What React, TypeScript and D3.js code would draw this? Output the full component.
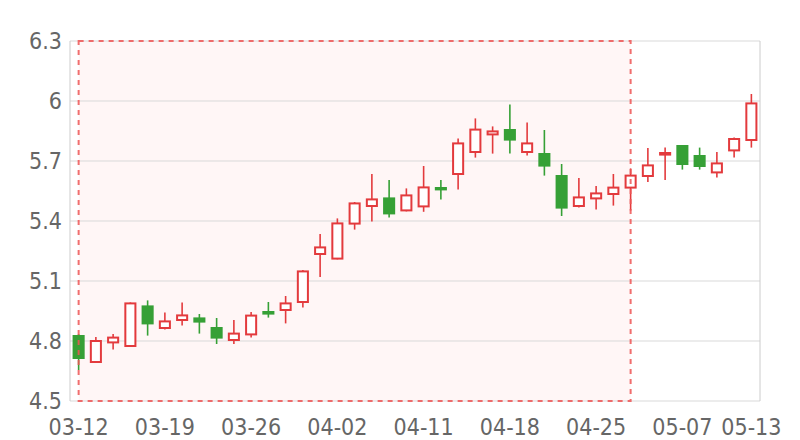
import React from "react";
import * as d3 from "d3";

const dates = [
  "03-12", "03-13", "03-14", "03-15", "03-16",
  "03-19", "03-20", "03-21", "03-22", "03-23",
  "03-26", "03-27", "03-28", "03-29", "03-30",
  "04-02", "04-03", "04-04", "04-09", "04-10",
  "04-11", "04-12", "04-13", "04-16", "04-17",
  "04-18", "04-19", "04-20", "04-23", "04-24",
  "04-25", "04-26", "04-27", "05-03", "05-04",
  "05-07", "05-08", "05-09", "05-10", "05-13",
];
const opens = [
  4.83, 4.695, 4.793, 4.775, 4.978, 4.865, 4.905, 4.918, 4.87, 4.805,
  4.833, 4.95, 4.955, 4.995, 5.235, 5.212, 5.387, 5.475, 5.518, 5.453,
  5.473, 5.57, 5.635, 5.745, 5.833, 5.86, 5.745, 5.74, 5.63, 5.475,
  5.513, 5.535, 5.567, 5.625, 5.732, 5.78, 5.73, 5.643, 5.753, 5.805,
];
const closes = [
  4.71, 4.8, 4.817, 4.988, 4.883, 4.898, 4.928, 4.892, 4.812, 4.837,
  4.927, 4.932, 4.988, 5.148, 5.268, 5.388, 5.488, 5.508, 5.433, 5.528,
  5.568, 5.553, 5.788, 5.857, 5.848, 5.802, 5.788, 5.672, 5.462, 5.518,
  5.538, 5.567, 5.627, 5.678, 5.74, 5.68, 5.67, 5.688, 5.81, 5.988,
];
const highs = [
  4.835, 4.82, 4.835, 4.993, 5.003, 4.943, 4.993, 4.935, 4.915, 4.905,
  4.945, 4.995, 5.025, 5.155, 5.335, 5.413, 5.495, 5.635, 5.605, 5.563,
  5.675, 5.605, 5.813, 5.913, 5.873, 5.983, 5.893, 5.855, 5.685, 5.615,
  5.575, 5.635, 5.663, 5.765, 5.767, 5.78, 5.767, 5.745, 5.817, 6.035,
];
const lows = [
  4.655, 4.695, 4.757, 4.775, 4.827, 4.857, 4.878, 4.837, 4.785, 4.785,
  4.817, 4.917, 4.888, 4.967, 5.12, 5.208, 5.357, 5.397, 5.417, 5.448,
  5.446, 5.508, 5.558, 5.717, 5.737, 5.737, 5.727, 5.627, 5.425, 5.467,
  5.457, 5.477, 5.452, 5.595, 5.605, 5.657, 5.657, 5.617, 5.717, 5.767,
];
const yTicks = [4.5, 4.8, 5.1, 5.4, 5.7, 6, 6.3];
const xLabels = ["03-12", "03-19", "03-26", "04-02", "04-11", "04-18", "04-25", "05-07", "05-13"];
const markStart = "03-12";
const markEnd = "04-27";

const W = 800;
const H = 440;
const left = 70;
const right = 760;
const top = 41;
const bottom = 401;

const RED = "#e33a3d";
const GREEN = "#36a036";
const FONT = "'DejaVu Sans Condensed', 'DejaVu Sans', sans-serif";

export default function App() {
  const x = d3.scaleBand<string>().domain(dates).range([left, right]).padding(0);
  const y = d3.scaleLinear().domain([4.5, 6.3]).range([bottom, top]);
  const bw = x.bandwidth();
  const bodyW = bw * 0.7;
  const cx = (d: string) => (x(d) as number) + bw / 2;

  const mx0 = cx(markStart);
  const mx1 = cx(markEnd);

  return (
    <svg width={W} height={H} style={{ position: "absolute", left: 0, top: 0, background: "#fff" }}>
      <rect x={mx0} y={top} width={mx1 - mx0} height={bottom - top} fill="#fff6f6" />
      {yTicks.map((t) => (
        <line key={t} x1={left} x2={right} y1={y(t)} y2={y(t)} stroke="#d9d9d9" strokeWidth={1} />
      ))}
      <line x1={left} x2={left} y1={top} y2={bottom} stroke="#cccccc" strokeWidth={1} />
      <line x1={right} x2={right} y1={top} y2={bottom} stroke="#cccccc" strokeWidth={1} />
      {yTicks.map((t) => (
        <text key={"yl" + t} x={62} y={y(t)} textAnchor="end" dominantBaseline="central"
          fontFamily={FONT} fontSize={23} fill="#666">
          {d3.format("~g")(t)}
        </text>
      ))}
      {xLabels.map((d) => (
        <text key={"xl" + d} x={cx(d)} y={427} textAnchor="middle" dominantBaseline="central"
          fontFamily={FONT} fontSize={23} fill="#666">
          {d}
        </text>
      ))}
      {dates.map((d, i) => {
        const o = opens[i], c = closes[i], h = highs[i], l = lows[i];
        const up = c >= o;
        const col = up ? RED : GREEN;
        const yt = y(Math.max(o, c));
        const yb = y(Math.min(o, c));
        const bh = Math.max(yb - yt, 1.5);
        return (
          <g key={d}>
            <line x1={cx(d)} x2={cx(d)} y1={y(h)} y2={y(l)} stroke={col} strokeWidth={1.6} />
            {up ? (
              <rect x={cx(d) - bodyW / 2 + 1} y={yt} width={bodyW - 2} height={bh}
                fill="#fff" stroke={col} strokeWidth={2} />
            ) : (
              <rect x={cx(d) - bodyW / 2} y={yt} width={bodyW} height={bh} fill={col} />
            )}
          </g>
        );
      })}
      <rect x={mx0} y={top} width={mx1 - mx0} height={bottom - top} fill="none"
        stroke="#ee5555" strokeOpacity={0.85} strokeWidth={2} strokeDasharray="5,5" />
    </svg>
  );
}
